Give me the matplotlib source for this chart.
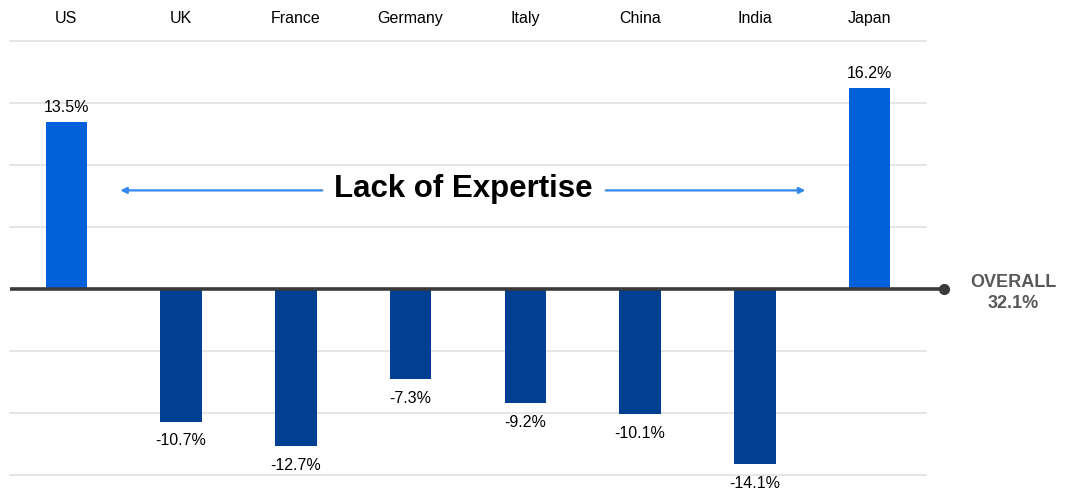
import matplotlib.pyplot as plt

plt.rcParams['font.family'] = ['Liberation Sans', 'DejaVu Sans']

# ============================================================
# DATA
# ============================================================

countries = ["US", "UK", "France", "Germany", "Italy", "China", "India", "Japan"]
values = [13.5, -10.7, -12.7, -7.3, -9.2, -10.1, -14.1, 16.2]
overall_label = "OVERALL\n32.1%"
title_text = "Lack of Expertise"

pos_color = "#0061DB"
neg_color = "#003F91"

# ============================================================
# FIGURE
# ============================================================

fig = plt.figure(figsize=(10.73, 4.92), dpi=100)
ax = fig.add_axes([9 / 1073, 0.0094, 918 / 1073, 0.9451])

x = list(range(len(countries)))
colors = [pos_color if v > 0 else neg_color for v in values]

ax.bar(x, values, width=0.36, color=colors, zorder=3)

ax.set_xlim(-0.5, len(countries) - 0.5)
ax.set_ylim(-16, 21.5)

# gridlines
for g in [20, 15, 10, 5, -5, -10, -15]:
    ax.axhline(g, color="#e2e2e2", linewidth=1.2, zorder=1)

# zero line with end dot
ax.plot([-0.49, 7.65], [0, 0], color="#3a3a3a", linewidth=2.6,
        clip_on=False, zorder=4, solid_capstyle='butt')
ax.plot([7.65], [0], 'o', color="#3a3a3a", markersize=7, clip_on=False, zorder=5)

# value labels
for xi, v in zip(x, values):
    if v > 0:
        ax.text(xi, v + 0.55, f"{v}%", ha='center', va='bottom', fontsize=11.5, zorder=6)
    else:
        ax.text(xi, v - 0.95, f"{v}%", ha='center', va='top', fontsize=11.5, zorder=6)

# country labels on top
for xi, c in zip(x, countries):
    ax.text(xi, 21.83, c, ha='center', va='center', fontsize=11.5)

# arrow with title
arrow_props = dict(arrowstyle='-|>', color="#3388EE", linewidth=1.6,
                   mutation_scale=9, shrinkA=0, shrinkB=0)
ax.annotate("", xy=(0.47, 7.95), xytext=(2.23, 7.95), arrowprops=arrow_props)
ax.annotate("", xy=(6.44, 7.95), xytext=(4.70, 7.95), arrowprops=arrow_props)
ax.text(3.46, 8.1, title_text, ha='center', va='center',
        fontsize=22.5, fontweight='bold', color="black")

# overall label
ax.text(8.25, -0.3, overall_label, ha='center', va='center', fontsize=13,
        fontweight='bold', color="#595959", linespacing=1.3, clip_on=False)

ax.axis('off')

fig.savefig("out.png", dpi=100)
